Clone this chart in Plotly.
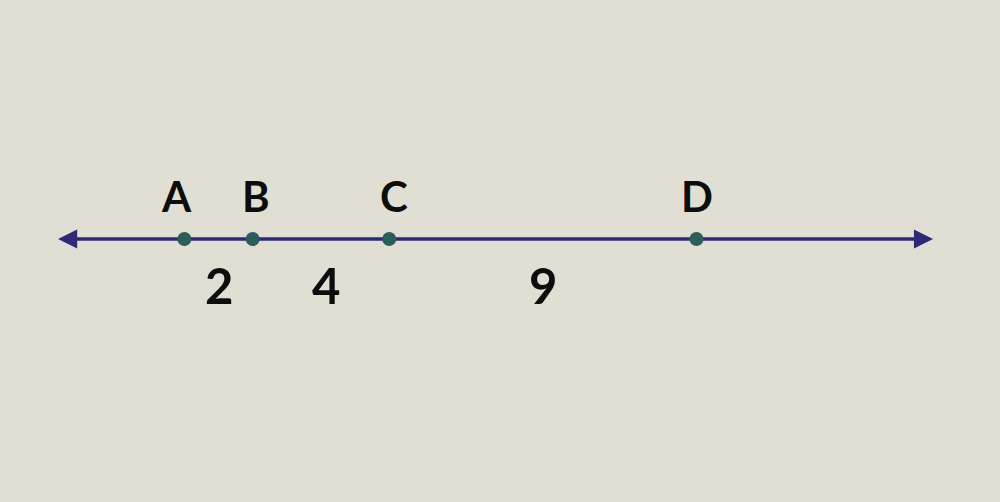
import plotly.graph_objects as go

# points on the line and the lengths between them
point_names = ["A", "B", "C", "D"]
segment_lengths = [2, 4, 9]

point_x = [0]
for s in segment_lengths:
    point_x.append(point_x[-1] + s)

BG = "#e1dfd3"
LINE = "#2d2a78"
DOT = "#2b5e5a"
TEXT = "#0d0d0d"
FONT = "Lato"

# axis window (units), line ends and arrowheads
x_range = [-5.40, 23.89]
y_range = [-263, 239]
line_start, line_end = -3.70, 21.93
head_len = 0.56
head_half = 9.5

# small nudges so the labels sit where the drawing has them
label_shift = {"A": -8, "B": 3, "C": 5, "D": 1}
number_shift = [0, 5, 0]

fig = go.Figure()

fig.add_shape(type="line", x0=line_start + head_len * 0.8, x1=line_end - head_len * 0.8,
              y0=0, y1=0, line=dict(color=LINE, width=3.5), layer="below")
fig.add_shape(type="path", fillcolor=LINE, line=dict(width=0),
              path=f"M {line_start},0 L {line_start + head_len},{head_half} "
                   f"L {line_start + head_len},{-head_half} Z")
fig.add_shape(type="path", fillcolor=LINE, line=dict(width=0),
              path=f"M {line_end},0 L {line_end - head_len},{head_half} "
                   f"L {line_end - head_len},{-head_half} Z")

fig.add_trace(go.Scatter(
    x=point_x, y=[0] * len(point_x), mode="markers",
    marker=dict(size=14, color=DOT, line=dict(width=0)),
    hoverinfo="skip", showlegend=False,
))

for name, x in zip(point_names, point_x):
    fig.add_annotation(x=x, y=43, text=f"<b>{name}</b>", showarrow=False,
                       xshift=label_shift[name],
                       font=dict(family=FONT, size=42, color=TEXT))

for i, s in enumerate(segment_lengths):
    mid = (point_x[i] + point_x[i + 1]) / 2
    fig.add_annotation(x=mid, y=-46, text=f"<b>{s}</b>", showarrow=False,
                       xshift=number_shift[i],
                       font=dict(family=FONT, size=49, color=TEXT))

fig.update_layout(
    width=1000, height=502,
    margin=dict(l=0, r=0, t=0, b=0),
    paper_bgcolor=BG, plot_bgcolor=BG,
    xaxis=dict(range=x_range, visible=False, fixedrange=True),
    yaxis=dict(range=y_range, visible=False, fixedrange=True),
)

# drop the page's default body margin so the figure fills the window
fig.write_html("out.html", config={"displayModeBar": False},
               post_script="document.body.style.margin='0';"
                           f"document.body.style.background='{BG}';")
